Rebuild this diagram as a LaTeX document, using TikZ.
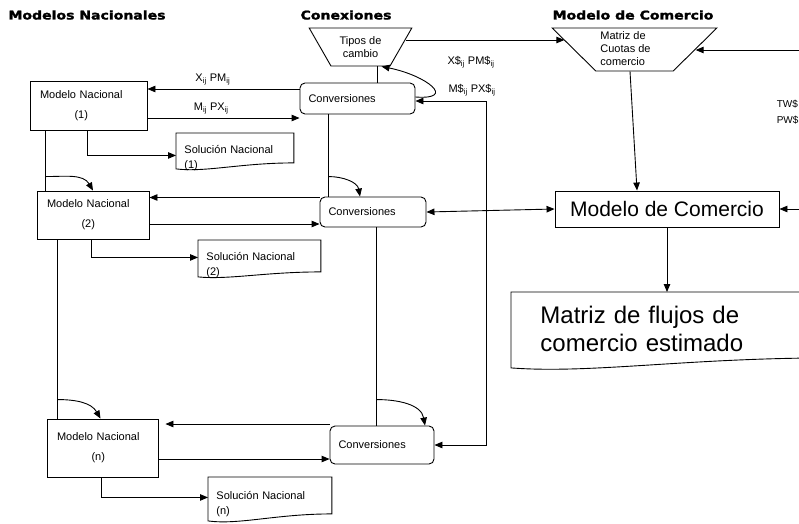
\documentclass[tikz,border=0pt]{standalone}
\usepackage{fontspec}
\setmainfont{Liberation Sans}
\newfontfamily\titlefont{DejaVu Sans}[BoldFeatures={FakeBold=1.6}]
\usetikzlibrary{arrows.meta,shapes.geometric,calc}

\tikzset{
  arr/.style={-{Triangle[length=8pt,width=6.5pt]}},
  arrs/.style={{Triangle[length=8pt,width=6.5pt]}-{Triangle[length=8pt,width=6.5pt]}},
  model/.style={draw, rectangle, inner xsep=10pt, align=left},
  conv/.style={draw, rectangle, rounded corners=5pt, inner xsep=8.5pt, align=left},
  doc/.style={inner xsep=8pt, inner ysep=0pt, align=left, anchor=north west, font=\fontsize{11}{15}\selectfont},
  trap/.style={draw, trapezium, shape border rotate=180, trapezium stretches=true, inner sep=1pt, align=center},
  head/.style={font=\titlefont\bfseries\fontsize{12}{14}\selectfont},
  lbl/.style={font=\fontsize{10}{12}\selectfont}
}

% outline of a document symbol round a node, #2 = drop of the left corner
\newcommand{\docframe}[2]{%
  \draw (#1.north west) -- (#1.north east) -- (#1.south east)
    .. controls ($(#1.south east)!0.45!(#1.south west)$)
    and ($(#1.south east)!0.75!(#1.south west)+(0,1.6*#2)$)
    .. ($(#1.south west)+(0,#2)$) -- cycle;}

\begin{document}
\begin{tikzpicture}[x=1pt, y=-1pt, line width=0.9pt, font=\fontsize{11}{13}\selectfont]
\useasboundingbox (0,0) rectangle (799,523);
\clip (0,0) rectangle (799,523);

% column titles
\node[head] (t1) at (87,15)  {\scalebox{1.17}[1]{Modelos Nacionales}};
\node[head] (t2) at (346,15) {\scalebox{1.17}[1]{Conexiones}};
\node[head] (t3) at (633,15) {\scalebox{1.17}[1]{Modelo de Comercio}};

% national models
\node[model, minimum width=117, minimum height=49, text width=97pt] (nm1) at (88.5,105.5)
  {\begin{tabular}{@{}c@{}}Modelo Nacional\\[7pt](1)\end{tabular}};
\node[model, minimum width=112, minimum height=48, text width=92pt] (nm2) at (93,215)
  {\begin{tabular}{@{}c@{}}Modelo Nacional\\[7pt](2)\end{tabular}};
\node[model, minimum width=111, minimum height=58, text width=91pt] (nmn) at (102.5,448)
  {\begin{tabular}{@{}c@{}}Modelo Nacional\\[7pt](n)\end{tabular}};

% solutions
\node[doc, text width=101pt, text height=20pt, text depth=9pt]  (sn1) at (176,133) {Solución Nacional\\(1)};
\node[doc, text width=106pt, text height=20pt, text depth=11pt] (sn2) at (198,240) {Solución Nacional\\(2)};
\node[doc, text width=107pt, text height=22pt, text depth=14pt] (snn) at (208,477) {Solución Nacional\\(n)};
\docframe{sn1}{6}
\docframe{sn2}{5}
\docframe{snn}{7}

% conversions
\node[conv, minimum width=115, minimum height=31, text width=98pt] (cv1) at (357.5,98.5) {Conversiones};
\node[conv, minimum width=106, minimum height=30, text width=89pt] (cv2) at (373,212)   {Conversiones};
\node[conv, minimum width=104, minimum height=38, text width=87pt] (cvn) at (382,445)   {Conversiones};

% exchange rates and trade shares
\node[trap, trapezium left angle=55, trapezium right angle=55, minimum width=103, minimum height=38] (tc) at (360.5,47)
  {Tipos de\\cambio};
\node[trap, trapezium left angle=46, trapezium right angle=46, minimum width=165, minimum height=43] (mt) at (634.5,49.5)
  {\begin{tabular}{@{}l@{\hspace{18pt}}}Matriz de\\Cuotas de\\comercio\end{tabular}};

% trade model
\node[draw, minimum width=224, minimum height=36, font=\fontsize{21}{24}\selectfont] (mdc) at (667,209) {Modelo de Comercio};
\node[doc, inner xsep=29pt, text width=261pt, text height=31pt, text depth=34pt, font=\fontsize{24}{28}\selectfont] (mf) at (511,292)
  {Matriz de flujos de\\comercio estimado};
\docframe{mf}{10}

% flows between models and conversions
\draw[arr] ([yshift=9.5pt]cv1.west) -- ([yshift=9.5pt]cv1.west -| nm1.east)
  node[pos=0.57, above] {X\textsubscript{ij} PM\textsubscript{ij}};
\draw[arr] ([yshift=-12.5pt]nm1.east) -- ([yshift=-12.5pt]nm1.east -| cv1.west)
  node[pos=0.42, above] {M\textsubscript{ij} PX\textsubscript{ij}};
\draw[arr] ([yshift=14.5pt]cv2.west) -- ([yshift=14.5pt]cv2.west -| nm2.east);
\draw[arr] ([yshift=-9pt]nm2.east) -- ([yshift=-9pt]nm2.east -| cv2.west);
\draw[arr, shorten >=7pt] ([yshift=21pt]cvn.west) -- ([yshift=21pt]cvn.west -| nmn.east);
\draw[arr] ([yshift=-11pt]nmn.east) -- ([yshift=-11pt]nmn.east -| cvn.west);

% models to solutions
\draw[arr] ([xshift=58pt]nm1.south west) |- ([yshift=-7.5pt]sn1.west);
\draw[arr] ([xshift=55pt]nm2.south west) |- ([yshift=-1.5pt]sn2.west);
\draw[arr] ([xshift=55pt]nmn.south west) |- ([yshift=-2pt]snn.west);

% model to model
\draw ([xshift=16pt]nm1.south west) coordinate (v1) -- (v1 |- nm2.north);
\draw[arr] ([yshift=14pt]v1 |- nm2.north) to[out=0,in=120] (nm2.north);
\draw ([xshift=21pt]nm2.south west) coordinate (v2) -- (v2 |- nmn.north);
\draw[arr] ([yshift=19pt]v2 |- nmn.north) to[out=0,in=120] ([xshift=-2pt]nmn.north);

% conversion to conversion
\draw ([xshift=29pt]cv1.south west) coordinate (v3) -- (v3 |- cv2.north);
\draw[arr] ([yshift=20pt]v3 |- cv2.north) to[out=0,in=100] ([xshift=-13pt]cv2.north);
\draw ([xshift=57pt]cv2.south west) coordinate (v4) -- (v4 |- cvn.north);
\draw[arr] ([yshift=26pt]v4 |- cvn.north) to[out=0,in=100] ([xshift=43pt]cvn.north);

% exchange rates
\draw ([xshift=20pt]cv1.north) -- ([xshift=20pt]cv1.north |- tc.south);
\draw[arr] ([yshift=1.5pt]cv1.east) .. controls +(42,3) and +(45,9) .. ([xshift=21pt]tc.south);
\draw[arr] ([xshift=4.5pt,yshift=7pt]tc.east) coordinate (h1) -- ([xshift=-9pt]h1 -| mt.west);

% dollar flows
\draw[arrs] ([yshift=-2.5pt]cv1.east) -- ++(71,0) |- (cvn.east);
\node (xd) at (471,62) {X\$\textsubscript{ij} PM\$\textsubscript{ij}};
\node (md) at (472,90) {M\$\textsubscript{ij} PX\$\textsubscript{ij}};

% trade model links
\coordinate (in1) at (810,50);
\coordinate (in2) at (810,209);
\draw[arr] (in1) -- (in1 -| mt.east);
\draw[arr] ([xshift=-4.5pt]mt.south) -- ([xshift=-30pt]mdc.north);
\draw[arr] (in2) -- (mdc.east);
\draw[arrs] (cv2.east) -- (mdc.west);
\draw[arr] (mdc.south) -- (mdc.south |- mf.north);
\node[lbl, anchor=west] (tw) at (773,104) {TW\$};
\node[lbl, anchor=west] (pw) at (773,120) {PW\$};

\end{tikzpicture}
\end{document}
